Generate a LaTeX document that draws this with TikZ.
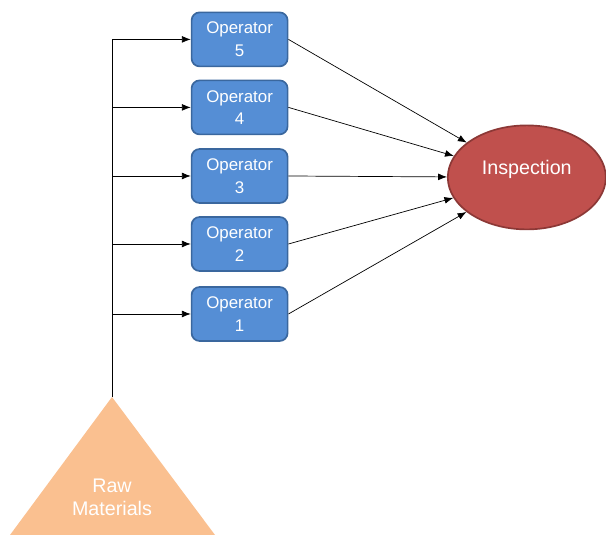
\documentclass[tikz,border=0pt]{standalone}
\usepackage{fontspec}
\setmainfont{Liberation Sans}
\usetikzlibrary{shapes.geometric,arrows.meta}
\definecolor{opblue}{HTML}{558ED5}
\definecolor{opedge}{HTML}{3A679E}
\definecolor{insred}{HTML}{C0504D}
\definecolor{insedge}{HTML}{8C3836}
\definecolor{rawtan}{HTML}{FAC090}
\tikzset{
  opbox/.style={draw=opedge, line width=1.2pt, fill=opblue, rounded corners=0.2cm, minimum width=2.4cm, minimum height=1.35cm, align=center, text=white, font=\fontsize{12}{16}\selectfont},
  flow/.style={-{Latex[length=2.2mm,width=1.7mm]}, line width=0.5pt}
}
\begin{document}
\begin{tikzpicture}
        \useasboundingbox (0,0) rectangle (15.15,13.375);
        %Operateurs
        \node [opbox] (op5) at (5.99,12.39) {Operator\\5};
        \node [opbox] (op4) at (5.99,10.69) {Operator\\4};
        \node [opbox] (op3) at (5.99,8.975) {Operator\\3};
        \node [opbox] (op2) at (5.99,7.275) {Operator\\2};
        \node [opbox] (op1) at (5.99,5.525) {Operator\\1};
        %Ellipse
        \node [ellipse, draw=insedge, line width=1.2pt, fill=insred, minimum width=3.95cm, minimum height=2.6cm, label={[text=white, font=\fontsize{14}{17}\selectfont, yshift=0.2cm]center:Inspection}] (insp) at (13.17,8.94) {};
        %Triangle
        \coordinate (rawtop) at (2.8,3.45);
        \fill [rawtan] (rawtop) -- (5.375,0) -- (0.25,0) -- cycle;
        \node [align=center, text=white, font=\fontsize{14}{16.5}\selectfont] (raw) at (2.8,0.95) {Raw\\Materials};
        %Traits et Fleches
        \draw [line width=0.5pt] (rawtop) -- (rawtop |- op5.west);
        \foreach \o in {op1,op2,op3,op4,op5}{
          \draw [flow] (rawtop |- \o.west) -- (\o.west);
          \draw [flow] (\o.east) -- (insp);
        }
\end{tikzpicture}
\end{document}
